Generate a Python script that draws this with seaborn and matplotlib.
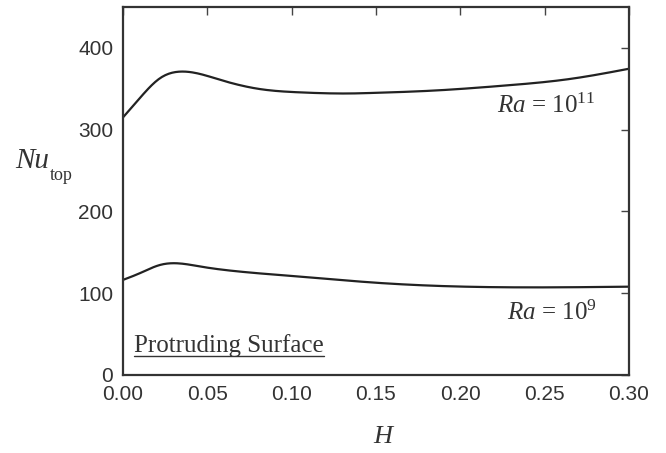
import numpy as np
import pandas as pd
import matplotlib
matplotlib.use("Agg")
import matplotlib.pyplot as plt
import seaborn as sns
from matplotlib.lines import Line2D

# Data
H_ra11 = [0.000, 0.010, 0.022, 0.034, 0.0575, 0.081, 0.105, 0.136, 0.146, 0.186, 0.225, 0.265, 0.300]
Nu_ra11 = [315.0, 338.7, 363.0, 371.0, 361.0, 349.7, 345.6, 344.3, 344.8, 348.0, 353.7, 362.0, 374.5]
H_ra9 = [0.000, 0.010, 0.022, 0.030, 0.046, 0.069, 0.105, 0.146, 0.186, 0.225, 0.265, 0.300]
Nu_ra9 = [116.3, 124.5, 134.6, 136.7, 132.6, 126.5, 120.3, 113.4, 109.0, 107.3, 107.3, 108.0]
x_ticks = [0.00, 0.05, 0.10, 0.15, 0.20, 0.25, 0.30]
y_ticks = [0, 100, 200, 300, 400]

sns.set_theme(style="white")
plt.rcParams['font.family'] = ['Liberation Sans', 'DejaVu Sans']
plt.rcParams['mathtext.fontset'] = 'custom'
plt.rcParams['mathtext.rm'] = 'Liberation Serif'
plt.rcParams['mathtext.it'] = 'Liberation Serif:italic'


def smooth(xs, ys, n=300):
    """Natural cubic spline through the read points."""
    xs = np.asarray(xs, float); ys = np.asarray(ys, float)
    N = len(xs); h = np.diff(xs)
    A = np.zeros((N, N)); b = np.zeros(N)
    A[0, 0] = 1; A[-1, -1] = 1
    for i in range(1, N - 1):
        A[i, i-1] = h[i-1]; A[i, i] = 2*(h[i-1] + h[i]); A[i, i+1] = h[i]
        b[i] = 6*((ys[i+1]-ys[i])/h[i] - (ys[i]-ys[i-1])/h[i-1])
    M = np.linalg.solve(A, b)
    xn = np.linspace(xs[0], xs[-1], n)
    idx = np.clip(np.searchsorted(xs, xn) - 1, 0, N - 2)
    x0 = xs[idx]; x1 = xs[idx+1]; hh = h[idx]
    yn = (M[idx]*(x1-xn)**3/(6*hh) + M[idx+1]*(xn-x0)**3/(6*hh)
          + (ys[idx]/hh - M[idx]*hh/6)*(x1-xn) + (ys[idx+1]/hh - M[idx+1]*hh/6)*(xn-x0))
    return xn, yn


x11, y11 = smooth(H_ra11, Nu_ra11)
x9, y9 = smooth(H_ra9, Nu_ra9)
df = pd.concat([
    pd.DataFrame({"H": x11, "Nu": y11, "Ra": "1e11"}),
    pd.DataFrame({"H": x9, "Nu": y9, "Ra": "1e9"}),
])

fig = plt.figure(figsize=(6.66, 4.53), dpi=100)
ax = fig.add_axes([123/666, 1 - 375/453, (629-123)/666, (375-7)/453])
ax.set_facecolor("white")
sns.lineplot(data=df, x="H", y="Nu", units="Ra", estimator=None, color="#222222",
             linewidth=1.6, ax=ax, legend=False, sort=False)

ax.set_xlim(0, 0.30)
ax.set_ylim(0, 450)
ax.set_xticks(x_ticks)
ax.set_xticklabels([f"{v:.2f}" for v in x_ticks])
ax.set_yticks(y_ticks)
ax.set_xlabel(""); ax.set_ylabel("")
for s in ax.spines.values():
    s.set_visible(True)
    s.set_color("#333333")
    s.set_linewidth(1.6)
ax.tick_params(axis="both", direction="in", length=5.5, width=1.0, color="#444444",
               top=True, right=True, labelsize=15, labelcolor="#333333", pad=7)

ax.text(0.2217, 320.7, r"$Ra$ = 10$^{11}$", fontsize=18, color="#333333",
        family="Liberation Serif", va="baseline", ha="left")
ax.text(0.2277, 67.3, r"$Ra$ = 10$^{9}$", fontsize=18, color="#333333",
        family="Liberation Serif", va="baseline", ha="left")
t = ax.text(0.0065, 28, "Protruding Surface", fontsize=18, color="#333333",
            family="Liberation Serif", va="baseline", ha="left")

nu = fig.text(15/666, 1 - 168/453, "Nu", fontsize=21, color="#333333",
              family="Liberation Serif", style="italic", va="baseline", ha="left")
fig.text(383/666, 1 - 443/453, "H", fontsize=19, color="#333333",
         family="Liberation Serif", style="italic", va="baseline", ha="center")

fig.canvas.draw()
nb = nu.get_window_extent()
fig.text((nb.x1 + 1)/666, 1 - 180/453, "top", fontsize=13, color="#333333",
         family="Liberation Serif", va="baseline", ha="left")
bb = t.get_window_extent()
uy = 1 - 356/453
fig.add_artist(Line2D([bb.x0/666, bb.x1/666], [uy, uy], color="#333333",
                      linewidth=1.0, transform=fig.transFigure))

fig.savefig("out.png", dpi=100, facecolor="white")
